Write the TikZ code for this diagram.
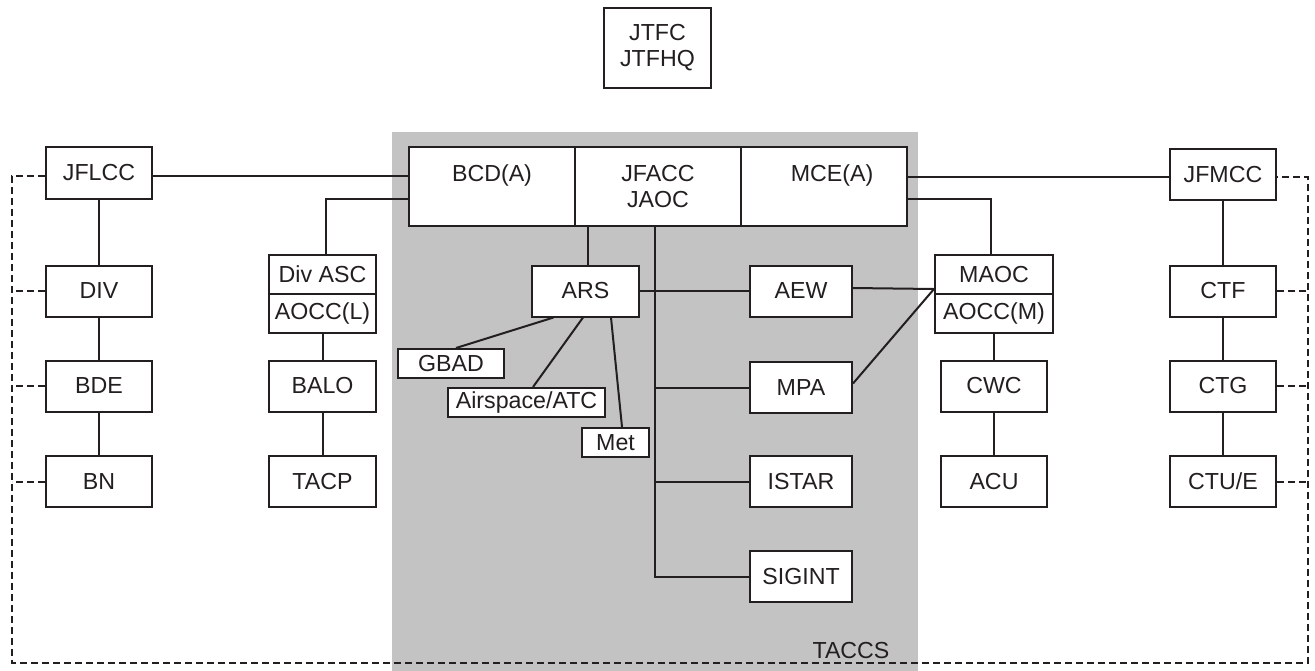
\documentclass[tikz,border=0pt]{standalone}
\usepackage{fontspec}
\setmainfont{Liberation Sans}
\usetikzlibrary{positioning, calc}
\definecolor{ink}{RGB}{35,31,32}
\definecolor{taccsgray}{RGB}{195,195,195}
\tikzset{
  unit/.style={draw=ink, fill=white, line width=1pt, inner sep=0pt,
    minimum width=53pt, minimum height=25.5pt, text=ink, align=center,
    font=\fontsize{11.6}{13}\selectfont},
  tag/.style={unit, minimum height=14.5pt},
  cell/.style={unit, minimum width=83pt, minimum height=39.5pt},
  link/.style={draw=ink, line width=1pt},
  liaison/.style={draw=ink, line width=1pt, dash pattern=on 3.5pt off 2pt},
}

\begin{document}
\begin{tikzpicture}[x=0.5pt, y=-0.5pt]
    \useasboundingbox (0,0) rectangle (1315,670);

    % TACCS area
    \fill[taccsgray] (392,132) rectangle (918,680);
    \node[text=ink, anchor=base, font=\fontsize{11.6}{13}\selectfont] (taccs) at (851,658) {TACCS};

    % Joint HQ
    \node[unit, minimum width=53.5pt, minimum height=40pt] (jtfc) at (657.5,48) {JTFC\\JTFHQ};

    % Air component
    \node[cell] (bcd) at (492,186.5) {BCD(A)\\~};
    \node[cell] (jfacc) at (658,186.5) {JFACC\\JAOC};
    \node[cell] (mce) at (824,186.5) {\hspace*{8pt}MCE(A)\\~};

    \node[unit, minimum width=53.5pt] (ars) at (585.5,291) {ARS};
    \node[tag] (gbad) at (451,363.5) {GBAD};
    \node[tag, minimum width=78.5pt] (airspace) at (526.5,402.5) {Airspace/ATC};
    \node[tag, minimum width=33.5pt] (met) at (615.5,442.5) {Met};

    \node[unit, minimum width=51pt] (aew) at (801,291) {AEW};
    \node[unit, minimum width=51pt] (mpa) at (801,387.5) {MPA};
    \node[unit, minimum width=51pt] (istar) at (801,481.5) {ISTAR};
    \node[unit, minimum width=51pt] (sigint) at (801,576.5) {SIGINT};

    % Land component
    \node[unit, minimum height=26pt] (jflcc) at (99,173) {JFLCC};
    \node[unit] (div) at (99,291) {DIV};
    \node[unit] (bde) at (99,386) {BDE};
    \node[unit] (bn) at (99,481.5) {BN};

    \node[unit, minimum width=53.5pt, minimum height=19.5pt] (divasc) at (322.5,274.5) {Div ASC};
    \node[unit, minimum width=53.5pt, minimum height=19.5pt] (aoccl) at (322.5,313.5) {AOCC(L)};
    \node[unit, minimum width=53.5pt] (balo) at (322.5,386) {BALO};
    \node[unit, minimum width=53.5pt] (tacp) at (322.5,481.5) {TACP};

    % Maritime component
    \node[unit, minimum width=59pt, minimum height=19.5pt] (maoc) at (994,274.5) {MAOC};
    \node[unit, minimum width=59pt, minimum height=19.5pt] (aoccm) at (994,313.5) {AOCC(M)};
    \node[unit] (cwc) at (994,386) {CWC};
    \node[unit] (acu) at (994,481.5) {ACU};

    \node[unit] (jfmcc) at (1223,174.5) {JFMCC};
    \node[unit] (ctf) at (1223,291) {CTF};
    \node[unit] (ctg) at (1223,386) {CTG};
    \node[unit] (ctue) at (1223,481.5) {CTU/E};

    % Chains
    \foreach \a/\b in {jflcc/div, div/bde, bde/bn, aoccl/balo, balo/tacp,
                       aoccm/cwc, cwc/acu, jfmcc/ctf, ctf/ctg, ctg/ctue}
        \draw[link] (\a.south) -- (\b.north);

    % Component links
    \draw[link] ([yshift=-1.5pt]jflcc.east) -- ([yshift=-1.5pt]jflcc.east -| bcd.west);
    \draw[link] ([xshift=1.75pt]divasc.north) |- ([yshift=-6.25pt]bcd.west);
    \draw[link] ([yshift=-1.25pt]jfmcc.west) -- ([yshift=-1.25pt]jfmcc.west -| mce.east);
    \draw[link] ([yshift=-6.25pt]mce.east) -| ([xshift=-1.5pt]maoc.north);

    % JAOC links
    \draw[link] ([xshift=1.25pt]ars.north) -- ([xshift=1.25pt]ars.north |- jfacc.south);
    \draw[link] ([xshift=-1.5pt]jfacc.south) |- (sigint.west);
    \foreach \n in {mpa, istar}
        \draw[link] ([xshift=-1.5pt]jfacc.south |- \n.west) -- (\n.west);
    \draw[link] (ars.east) -- (aew.west);

    % ARS cells
    \draw[link] ([xshift=2.5pt]gbad.north) -- ([xshift=-16pt]ars.south);
    \draw[link] ([xshift=3.25pt]airspace.north) -- ([xshift=-1.25pt]ars.south);
    \draw[link] ([xshift=3.25pt]met.north) -- ([xshift=12.75pt]ars.south);

    % AEW and MPA to MAOC
    \coordinate (maocin) at ([yshift=3pt]maoc.south west);
    \draw[link] ([yshift=1.5pt]aew.east) -- (maocin) -- ([yshift=2pt]mpa.east);

    % Liaison loop
    \coordinate (lsw) at (12,663);
    \coordinate (rse) at (1308,663);
    \draw[liaison] ([yshift=-1.5pt]jflcc.west) -| (lsw) -- (rse) |- ([yshift=-1.25pt]jfmcc.east);
    \foreach \n in {div, bde, bn}
        \draw[liaison] (\n.west) -- (\n.west -| lsw);
    \foreach \n in {ctf, ctg, ctue}
        \draw[liaison] (\n.east) -- (\n.east -| rse);
\end{tikzpicture}
\end{document}
